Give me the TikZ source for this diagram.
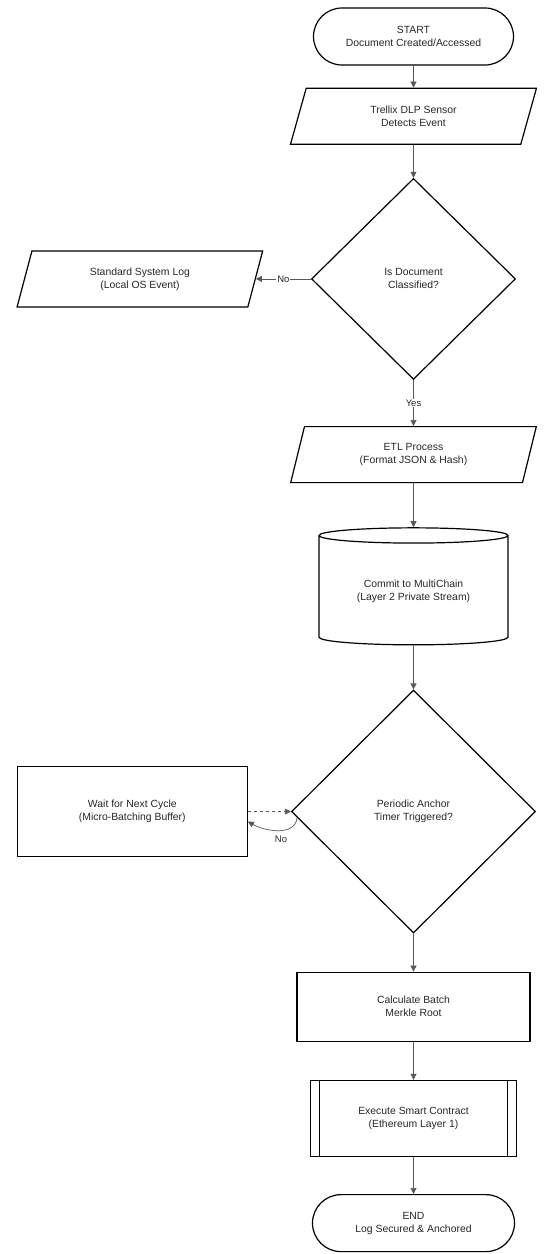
\documentclass[tikz,border=0pt]{standalone}
\usepackage{fontspec}
\setmainfont{Liberation Sans}
\usetikzlibrary{shapes.geometric, shapes.misc, arrows.meta, positioning}

\begin{document}
\begin{tikzpicture}[
    x=1pt, y=1pt,
    node distance=30pt,
    font=\fontsize{10.4}{13}\selectfont,
    base/.style={draw=black, line width=1.2pt, align=center, text=black!85, inner sep=2pt},
    terminal/.style={base, rounded rectangle, minimum width=204pt, minimum height=57pt},
    io/.style={base, trapezium, trapezium left angle=75, trapezium right angle=105, trapezium stretches=true, minimum width=246pt, minimum height=56pt},
    decision/.style={base, diamond, aspect=1},
    process/.style={base, rectangle},
    store/.style={base, cylinder, shape border rotate=90, aspect=0.13, minimum width=189pt, minimum height=117pt},
    predef/.style={process, path picture={
        \draw[line width=1pt] ([xshift=9pt]path picture bounding box.north west) -- ([xshift=9pt]path picture bounding box.south west)
            ([xshift=-9pt]path picture bounding box.north east) -- ([xshift=-9pt]path picture bounding box.south east);}},
    arrow/.style={-{Triangle[length=6pt, width=6pt]}, line width=0.7pt, draw=black!65},
    lbl/.style={fill=white, inner sep=1pt, text=black!85, font=\fontsize{9.5}{11}\selectfont},
]
\useasboundingbox (0,0) rectangle (550,-1254);

% main column
\node[terminal] (start) at (413.5,-36.5) {START\\Document Created/Accessed};
\node[io, below=22pt of start] (sensor) {Trellix DLP Sensor\\Detects Event};
\node[decision, minimum width=204pt, minimum height=201pt, below=33pt of sensor] (classified) {Is Document\\Classified?};
\node[io, left=55pt of classified] (syslog) {Standard System Log\\(Local OS Event)};
\node[io, below=46pt of classified] (etl) {ETL Process\\(Format JSON \& Hash)};
\node[store, below=44pt of etl] (commit) {Commit to MultiChain\\(Layer 2 Private Stream)};
\node[decision, minimum width=244pt, minimum height=243pt, below=44pt of commit] (timer) {Periodic Anchor\\Timer Triggered?};
\node[process, minimum width=230pt, minimum height=90pt, left=43pt of timer] (wait) {Wait for Next Cycle\\(Micro-Batching Buffer)};
\node[process, minimum width=233pt, minimum height=69pt, below=38pt of timer] (merkle) {Calculate Batch\\Merkle Root};
\node[predef, minimum width=206pt, minimum height=76pt, below=38pt of merkle] (contract) {Execute Smart Contract\\(Ethereum Layer 1)};
\node[terminal, minimum width=206pt, below=37pt of contract] (finish) {END\\Log Secured \& Anchored};

% connectors
\draw[arrow] (start) -- (sensor);
\draw[arrow] (sensor) -- (classified);
\draw[arrow] (classified.west) -- node[lbl] {No} (syslog.east);
\draw[arrow] (classified.south) -- node[lbl] {Yes} (etl.north);
\draw[arrow] (etl) -- (commit);
\draw[arrow] (commit) -- (timer);
\draw[arrow, dashed] (wait.east) -- (timer.west);
\draw[arrow] (timer.183) to[out=-95, in=-30] node[pos=0.45, below=4pt, lbl, fill=none] {No} ([yshift=-10pt]wait.east);
\draw[arrow] (timer) -- (merkle);
\draw[arrow] (merkle) -- (contract);
\draw[arrow] (contract) -- (finish);

\end{tikzpicture}
\end{document}
